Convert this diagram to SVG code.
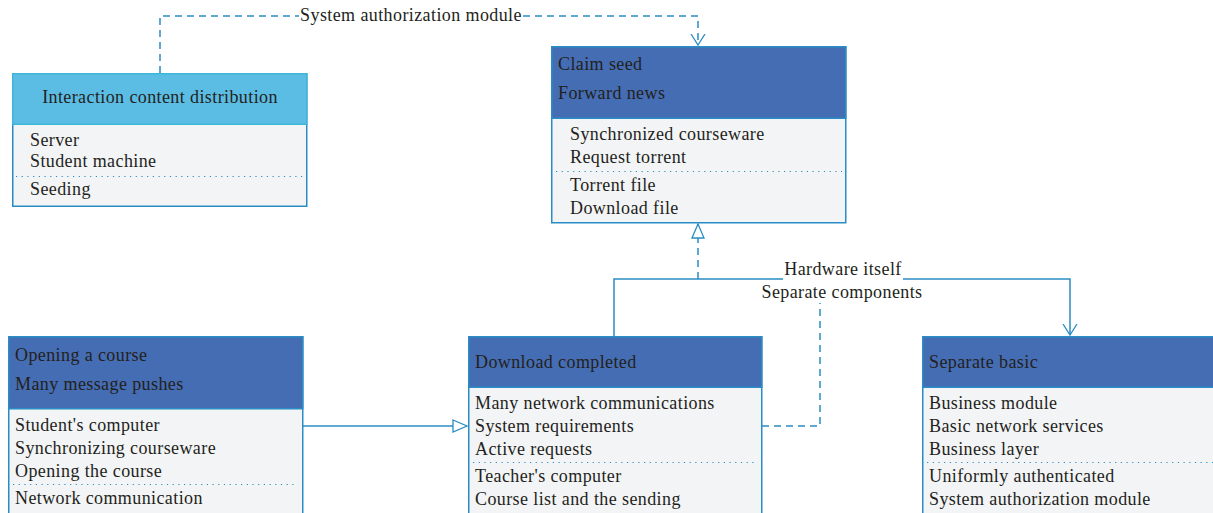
<svg xmlns="http://www.w3.org/2000/svg" width="1213" height="513" viewBox="0 0 1213 513">
<style>
text{font-family:"Liberation Serif","Times New Roman",serif;font-size:18px;letter-spacing:0.4px;fill:#231f20}
.body{fill:#f3f4f6;stroke:#2a8cc4;stroke-width:1.5}
.hd{fill:#456db3;stroke:#2a8cc4;stroke-width:1.5}
.hl{fill:#5bbde4;stroke:#3fb6d8;stroke-width:1.5}
.dot{stroke:#2a8cc4;stroke-width:1.2;stroke-dasharray:1.2 4.5;fill:none}
.ln{stroke:#2a8cc4;stroke-width:1.5;fill:none}
.dash{stroke:#2a8cc4;stroke-width:1.5;fill:none;stroke-dasharray:7 5}
.lbl{fill:#fff;stroke:none}
</style>
<defs>
<marker id="vee" viewBox="0 0 12 16" refX="11" refY="8" markerWidth="12" markerHeight="16" markerUnits="userSpaceOnUse" orient="auto">
<path d="M0,1 L11,8 L0,15" fill="none" stroke="#2a8cc4" stroke-width="1.3"/>
</marker>
<marker id="tri" viewBox="0 0 16 14" refX="15" refY="7" markerWidth="16" markerHeight="14" markerUnits="userSpaceOnUse" orient="auto">
<path d="M1,1 L15,7 L1,13 Z" fill="#fff" stroke="#2a8cc4" stroke-width="1.3"/>
</marker>
</defs>
<g id="connectors">
<path class="dash" d="M160,73 V16 H698 V45" marker-end="url(#vee)"/>
<rect class="lbl" x="299" y="5" width="224" height="20"/>
<text x="411" y="21" text-anchor="middle">System authorization module</text>
<path class="ln" d="M614,336 V279 H1070 V335" marker-end="url(#vee)"/>
<path class="dash" d="M698,279 V224" marker-end="url(#tri)"/>
<path class="dash" d="M762,426 H820 V303"/>
<rect class="lbl" x="783" y="260" width="120" height="22"/>
<text x="843" y="275" text-anchor="middle">Hardware itself</text>
<text x="842" y="298" text-anchor="middle">Separate components</text>
<path class="ln" d="M303,426 H467" marker-end="url(#tri)"/>
</g>
<g id="node-interaction">
<rect class="body" x="12.75" y="73.75" width="294" height="132.5"/>
<rect class="hl" x="12.75" y="73.75" width="294" height="50.5"/>
<text x="160" y="103" text-anchor="middle">Interaction content distribution</text>
<text x="30" y="146">Server</text>
<text x="30" y="167">Student machine</text>
<line class="dot" x1="16" y1="176.5" x2="304" y2="176.5"/>
<text x="30" y="195">Seeding</text>
</g>
<g id="node-claim">
<rect class="body" x="551.75" y="46.75" width="294" height="176"/>
<rect class="hd" x="551.75" y="46.75" width="294" height="71.5"/>
<text x="558" y="70">Claim seed</text>
<text x="558" y="99">Forward news</text>
<text x="570" y="140">Synchronized courseware</text>
<text x="570" y="163">Request torrent</text>
<line class="dot" x1="556" y1="171.5" x2="842" y2="171.5"/>
<text x="570" y="191">Torrent file</text>
<text x="570" y="214">Download file</text>
</g>
<g id="node-opening">
<rect class="body" x="8.75" y="336.75" width="294" height="180"/>
<rect class="hd" x="8.75" y="336.75" width="294" height="72"/>
<text x="15" y="361">Opening a course</text>
<text x="15" y="390">Many message pushes</text>
<text x="15" y="431">Student's computer</text>
<text x="15" y="454">Synchronizing courseware</text>
<text x="15" y="477">Opening the course</text>
<line class="dot" x1="13" y1="484.5" x2="298" y2="484.5"/>
<text x="15" y="504">Network communication</text>
</g>
<g id="node-download">
<rect class="body" x="468.75" y="336.75" width="293" height="180"/>
<rect class="hd" x="468.75" y="336.75" width="293" height="50.5"/>
<text x="475" y="368">Download completed</text>
<text x="475" y="409">Many network communications</text>
<text x="475" y="432">System requirements</text>
<text x="475" y="455">Active requests</text>
<line class="dot" x1="473" y1="462.5" x2="758" y2="462.5"/>
<text x="475" y="482">Teacher's computer</text>
<text x="475" y="505">Course list and the sending</text>
</g>
<g id="node-separate">
<rect class="body" x="922.75" y="336.75" width="300" height="180"/>
<rect class="hd" x="922.75" y="336.75" width="300" height="50.5"/>
<text x="929" y="368">Separate basic</text>
<text x="929" y="409">Business module</text>
<text x="929" y="432">Basic network services</text>
<text x="929" y="455">Business layer</text>
<line class="dot" x1="927" y1="462.5" x2="1213" y2="462.5"/>
<text x="929" y="482">Uniformly authenticated</text>
<text x="929" y="505">System authorization module</text>
</g>
</svg>
